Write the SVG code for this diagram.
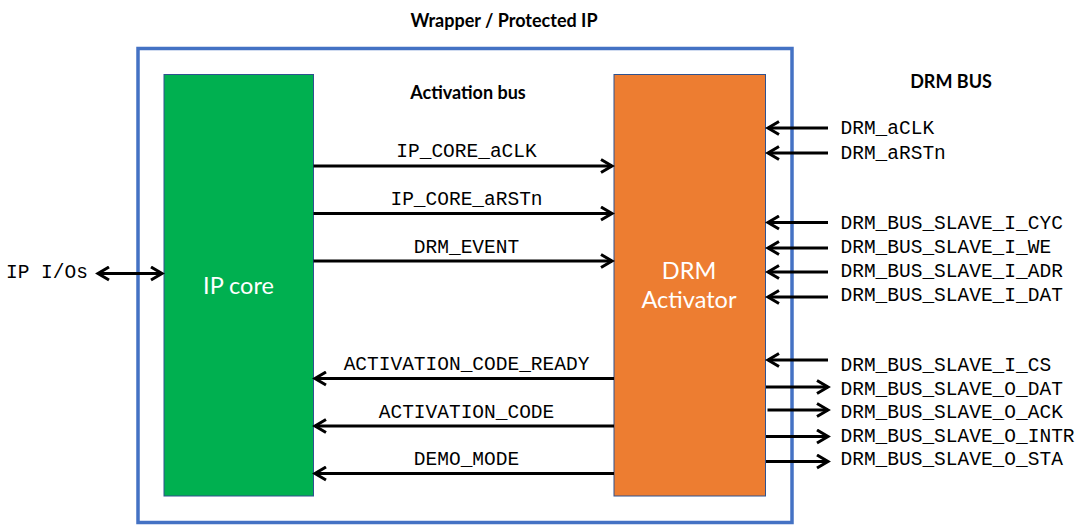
<svg xmlns="http://www.w3.org/2000/svg" width="1085" height="531" viewBox="0 0 1085 531">
<style>
.title{font-family:Lato,"Liberation Sans",sans-serif;font-weight:bold;font-size:18px;fill:#000;text-anchor:middle}
.node{font-family:Lato,"Liberation Sans",sans-serif;font-size:23.5px;fill:#fff;text-anchor:middle}
.sig{font-family:"Liberation Mono","Courier New",monospace;font-size:19.5px;fill:#000}
.mid{text-anchor:middle}
.wire{stroke:#000;stroke-width:3;fill:none}
.arr{marker-end:url(#ah)}
</style>
<defs>
<marker id="ah" markerUnits="userSpaceOnUse" markerWidth="16" markerHeight="16" viewBox="0 0 16 16" refX="13" refY="8" orient="auto-start-reverse">
<path d="M2,1.5 L13,8 L2,14.5" fill="none" stroke="#000" stroke-width="3"/>
</marker>
</defs>
<rect width="1085" height="531" fill="#fff"/>
<g id="wrapper">
<rect x="138" y="48.5" width="654" height="474" fill="none" stroke="#4472C4" stroke-width="3.5"/>
<text class="title" x="504" y="27">Wrapper / Protected IP</text>
</g>
<text class="title" x="468" y="99">Activation bus</text>
<text class="title" x="951" y="88">DRM BUS</text>
<g id="ip-core">
<rect x="164" y="74.5" width="149.5" height="421.5" fill="#00B050" stroke="#2F528F" stroke-width="1"/>
<text class="node" x="238.5" y="294">IP core</text>
</g>
<g id="drm-activator">
<rect x="614" y="74.5" width="151.5" height="421.5" fill="#ED7D31" stroke="#2F528F" stroke-width="1"/>
<text class="node" x="689" y="279">DRM</text>
<text class="node" x="689" y="307.5">Activator</text>
</g>
<g id="connectors">
<line class="wire arr" x1="313.5" y1="166" x2="612" y2="166"/>
<line class="wire arr" x1="313.5" y1="213.5" x2="612" y2="213.5"/>
<line class="wire arr" x1="313.5" y1="261" x2="612" y2="261"/>
<line class="wire arr" x1="614" y1="378.5" x2="315" y2="378.5"/>
<line class="wire arr" x1="614" y1="426" x2="315" y2="426"/>
<line class="wire arr" x1="614" y1="473.5" x2="315" y2="473.5"/>
<line class="wire arr" x1="98" y1="273.5" x2="162" y2="273.5" style="marker-start:url(#ah)"/>
<line class="wire arr" x1="828" y1="128" x2="768" y2="128"/>
<line class="wire arr" x1="828" y1="153" x2="768" y2="153"/>
<line class="wire arr" x1="828" y1="222.5" x2="768" y2="222.5"/>
<line class="wire arr" x1="828" y1="248" x2="768" y2="248"/>
<line class="wire arr" x1="828" y1="272" x2="768" y2="272"/>
<line class="wire arr" x1="828" y1="297" x2="768" y2="297"/>
<line class="wire arr" x1="828" y1="360" x2="768" y2="360"/>
<line class="wire arr" x1="766" y1="387" x2="828" y2="387"/>
<line class="wire arr" x1="767.5" y1="410" x2="828" y2="410"/>
<line class="wire arr" x1="766" y1="436.5" x2="828" y2="436.5"/>
<line class="wire arr" x1="766" y1="461.5" x2="828" y2="461.5"/>
</g>
<g id="labels">
<text class="sig mid" x="466.5" y="157">IP_CORE_aCLK</text>
<text class="sig mid" x="466.5" y="205">IP_CORE_aRSTn</text>
<text class="sig mid" x="466.5" y="253">DRM_EVENT</text>
<text class="sig mid" x="466.5" y="370">ACTIVATION_CODE_READY</text>
<text class="sig mid" x="466.5" y="418">ACTIVATION_CODE</text>
<text class="sig mid" x="466.5" y="465">DEMO_MODE</text>
<text class="sig" x="6" y="278">IP I/Os</text>
<text class="sig" x="840.5" y="134">DRM_aCLK</text>
<text class="sig" x="840.5" y="158.5">DRM_aRSTn</text>
<text class="sig" x="840.5" y="229">DRM_BUS_SLAVE_I_CYC</text>
<text class="sig" x="840.5" y="252.5">DRM_BUS_SLAVE_I_WE</text>
<text class="sig" x="840.5" y="276.5">DRM_BUS_SLAVE_I_ADR</text>
<text class="sig" x="840.5" y="300.5">DRM_BUS_SLAVE_I_DAT</text>
<text class="sig" x="840.5" y="371">DRM_BUS_SLAVE_I_CS</text>
<text class="sig" x="840.5" y="394.5">DRM_BUS_SLAVE_O_DAT</text>
<text class="sig" x="840.5" y="417.5">DRM_BUS_SLAVE_O_ACK</text>
<text class="sig" x="840.5" y="442">DRM_BUS_SLAVE_O_INTR</text>
<text class="sig" x="840.5" y="465">DRM_BUS_SLAVE_O_STA</text>
</g>
</svg>
